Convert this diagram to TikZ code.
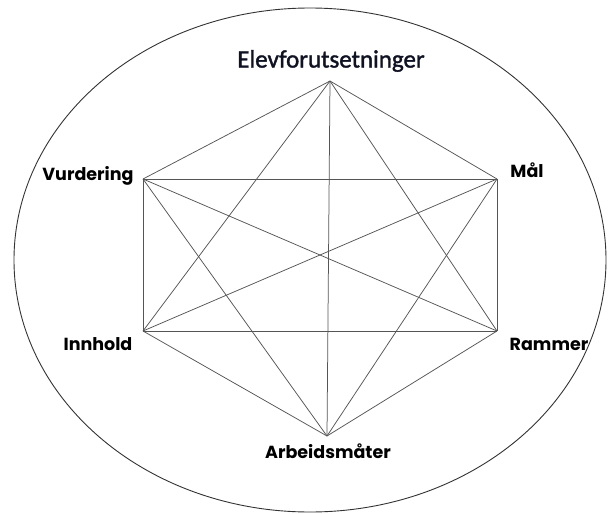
\documentclass[tikz,border=0pt]{standalone}
\usepackage{fontspec}
\setmainfont{Poppins}
\newfontfamily\titlefont[FakeBold=1.5]{Carlito}
\definecolor{linegray}{RGB}{85,85,85}
\definecolor{titleblue}{RGB}{15,18,35}
\begin{document}
\begin{tikzpicture}[x=1pt,y=-1pt,
  edge/.style={draw=linegray,line width=0.75pt},
  lbl/.style={font=\fontsize{17.5}{20}\selectfont\bfseries,inner sep=0pt}]
\useasboundingbox (0,0) rectangle (608,514);
\draw[line width=0.9pt,draw=black!80] (310,260) ellipse [x radius=296, y radius=252];
\coordinate (T) at (330,81);
\coordinate (UL) at (143,179);
\coordinate (UR) at (497,179);
\coordinate (LL) at (143,331);
\coordinate (LR) at (497,331);
\coordinate (B) at (327,436);
\foreach \a/\b in {T/UL,T/UR,UR/LR,LR/B,B/LL,LL/UL,UL/UR,LL/LR,T/LL,T/LR,UL/B,UR/B,UL/LR,UR/LL,T/B}
  \draw[edge] (\a) -- (\b);
\node[inner sep=0pt,text=titleblue,font=\titlefont\fontsize{25}{28}\selectfont] (ttl) at (331,61) {Elevforutsetninger};
\node[lbl] (vur) at (88,176) {Vurdering};
\node[lbl] (mal) at (527,170) {Mål};
\node[lbl] (inn) at (98,344) {Innhold};
\node[lbl] (ram) at (549,344) {Rammer};
\node[lbl] (arb) at (328,451) {Arbeidsmåter};
\end{tikzpicture}
\end{document}
